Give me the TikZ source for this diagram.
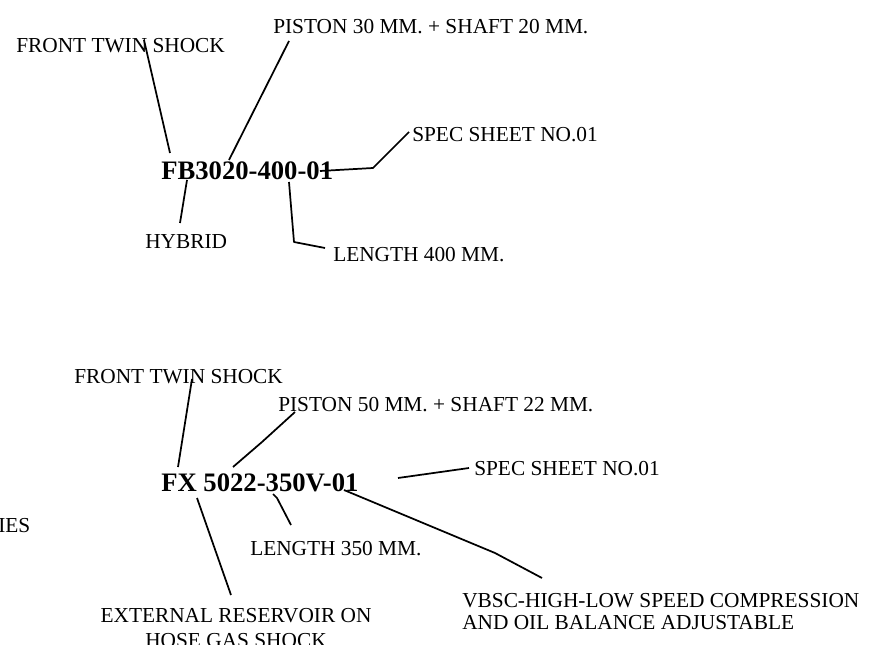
\documentclass[tikz,border=0pt]{standalone}
\usepackage{fontspec}
\setmainfont{Liberation Serif}
\usetikzlibrary{positioning}

\begin{document}
\begin{tikzpicture}[x=0.75pt,y=-0.75pt,
  lbl/.style={inner sep=0,anchor=base west,font=\fontsize{16}{18.5}\selectfont},
  pn/.style={inner sep=0,anchor=base west,font=\fontsize{20}{24}\selectfont\bfseries},
  lead/.style={line width=1.3pt,line join=round}]
  \useasboundingbox (0,0) rectangle (881,645);

  % FB3020-400-01
  \node[pn] (pnA) at (161,180) {FB3020-400-01};
  \node[lbl] (twinA) at (16,53) {FRONT TWIN SHOCK};
  \node[lbl] (pistA) at (273,34) {PISTON 30 MM. + SHAFT 20 MM.};
  \node[lbl] (specA) at (412,142) {SPEC SHEET NO.01};
  \node[lbl] (hybA) at (145,248) {HYBRID};
  \node[lbl] (lenA) at (333,262) {LENGTH 400 MM.};

  \coordinate (twinA1) at (144,40);  \coordinate (twinA2) at (170,153);
  \coordinate (pistA1) at (289,41);  \coordinate (pistA2) at (229,160);
  \coordinate (specA1) at (320,171); \coordinate (specA2) at (373,168);
  \coordinate (specA3) at (409,132);
  \coordinate (hybA1) at (187,180);  \coordinate (hybA2) at (180,223);
  \coordinate (lenA1) at (289,182);  \coordinate (lenA2) at (294,242);
  \coordinate (lenA3) at (325,248);

  \draw[lead] (twinA1) -- (twinA2);
  \draw[lead] (pistA1) -- (pistA2);
  \draw[lead] (specA1) -- (specA2) -- (specA3);
  \draw[lead] (hybA1) -- (hybA2);
  \draw[lead] (lenA1) -- (lenA2) -- (lenA3);

  % FX 5022-350V-01
  \node[pn] (pnB) at (161,491) {FX 5022-350V-01};
  \node[lbl] (twinB) at (74,383) {FRONT TWIN SHOCK};
  \node[lbl] (pistB) at (278,411) {PISTON 50 MM. + SHAFT 22 MM.};
  \node[lbl] (specB) at (474,475) {SPEC SHEET NO.01};
  \node[lbl] (serB) at (-2,532) {IES};
  \node[lbl] (lenB) at (250,555) {LENGTH 350 MM.};
  \node[lbl,anchor=base,align=center] (extB) at (236,647)
    {EXTERNAL RESERVOIR ON\\HOSE GAS SHOCK};
  \node[lbl,align=left,font=\fontsize{16}{16.5}\selectfont] (vbscB) at (462,629)
    {VBSC-HIGH-LOW SPEED COMPRESSION\\AND OIL BALANCE ADJUSTABLE};

  \coordinate (twinB1) at (192,379); \coordinate (twinB2) at (178,467);
  \coordinate (pistB1) at (295,412); \coordinate (pistB2) at (262,442);
  \coordinate (pistB3) at (233,467);
  \coordinate (specB1) at (398,478); \coordinate (specB2) at (469,468);
  \coordinate (extB1) at (197,498);  \coordinate (extB2) at (231,595);
  \coordinate (lenB1) at (273,494);  \coordinate (lenB2) at (277,498);
  \coordinate (lenB3) at (291,525);
  \coordinate (vbscB1) at (344,490); \coordinate (vbscB2) at (495,553);
  \coordinate (vbscB3) at (542,578);

  \draw[lead] (twinB1) -- (twinB2);
  \draw[lead] (pistB1) -- (pistB2) -- (pistB3);
  \draw[lead] (specB1) -- (specB2);
  \draw[lead] (extB1) -- (extB2);
  \draw[lead] (lenB1) -- (lenB2) -- (lenB3);
  \draw[lead] (vbscB1) -- (vbscB2) -- (vbscB3);
\end{tikzpicture}
\end{document}
